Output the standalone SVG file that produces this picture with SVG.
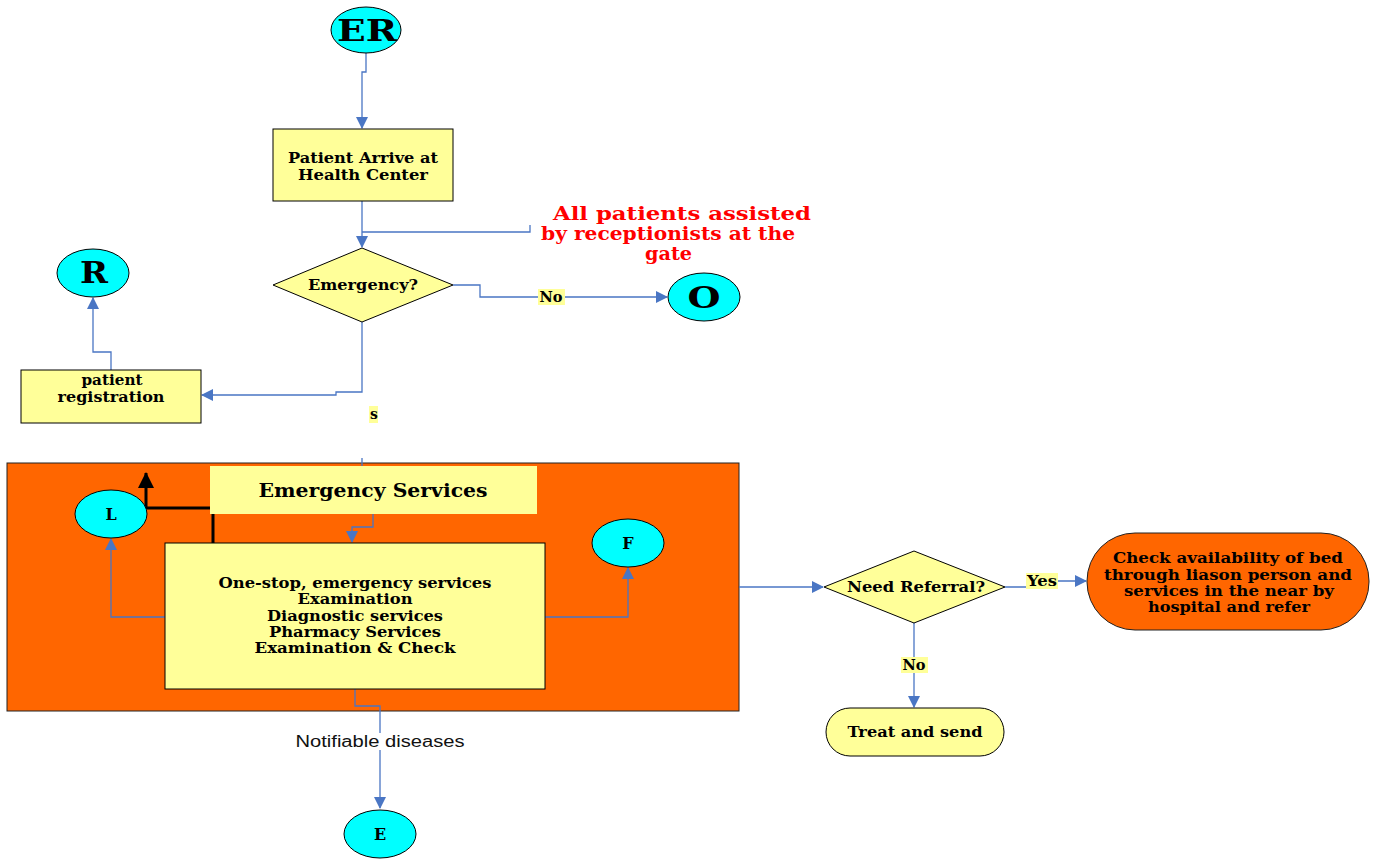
<svg xmlns="http://www.w3.org/2000/svg" width="1380" height="859" viewBox="0 0 1380 859">
<style>
.t{font-family:"DejaVu Serif","Liberation Serif",serif;font-weight:bold;fill:#000;text-anchor:middle;dominant-baseline:central}
.cy{fill:#00FFFF;stroke:#000;stroke-width:1}
.yl{fill:#FFFF99;stroke:#000;stroke-width:1}
.or{fill:#FF6600;stroke:#222;stroke-width:1}
.c{fill:none;stroke:#4A76C4;stroke-width:1.3}
.lb{fill:#FFFF99}
</style>
<defs>
<marker id="a" markerUnits="userSpaceOnUse" markerWidth="12" markerHeight="12" refX="11" refY="6" orient="auto">
<path d="M0,0 L12,6 L0,12 z" fill="#4A76C4"/>
</marker>
<marker id="b" markerUnits="userSpaceOnUse" markerWidth="16" markerHeight="16" refX="15" refY="8" orient="auto">
<path d="M0,0 L16,8 L0,16 z" fill="#000"/>
</marker>
</defs>

<g id="emergency-area">
<rect class="or" x="7" y="463" width="732" height="248"/>
</g>

<g id="connectors">
<path class="c" d="M366,53 V72 H362 V128" marker-end="url(#a)"/>
<path class="c" d="M362,201 V247" marker-end="url(#a)"/>
<path class="c" d="M530,225 V232 H362"/>
<path class="c" d="M453,285 H480 V297 H667" marker-end="url(#a)"/>
<path class="c" d="M362,322 V392 H336 V395 H202" marker-end="url(#a)"/>
<path class="c" d="M362,458 V466"/>
<path class="c" d="M111,370 V352 H93 V298" marker-end="url(#a)"/>
<path class="c" d="M373,514 V527 H352 V542" marker-end="url(#a)"/>
<path class="c" d="M165,617 H111 V539" marker-end="url(#a)"/>
<path class="c" d="M545,617 H628 V568" marker-end="url(#a)"/>
<path class="c" d="M355,689 V706 H380 V808" marker-end="url(#a)"/>
<path class="c" d="M739,587 H823" marker-end="url(#a)"/>
<path class="c" d="M1005,587 H1030 V581 H1086" marker-end="url(#a)"/>
<path class="c" d="M914,623 V707" marker-end="url(#a)"/>
<path d="M213,543 V508 H146 V473" fill="none" stroke="#000" stroke-width="3" marker-end="url(#b)"/>
<rect x="292" y="733" width="178" height="17" fill="#fff"/>
<text x="380" y="741" textLength="169" lengthAdjust="spacingAndGlyphs" style="font-family:'Liberation Sans',Arial,sans-serif;font-size:16px;fill:#111;text-anchor:middle;dominant-baseline:central">Notifiable diseases</text>
<rect class="lb" x="538" y="289" width="27" height="16"/>
<text class="t" x="551" y="297" textLength="23" lengthAdjust="spacingAndGlyphs" style="font-size:14px">No</text>
<rect class="lb" x="369" y="406" width="9" height="17"/>
<text class="t" x="374" y="414" style="font-size:14px">s</text>
<rect class="lb" x="1026" y="573" width="32" height="16"/>
<text class="t" x="1042" y="581" textLength="30" lengthAdjust="spacingAndGlyphs" style="font-size:14px">Yes</text>
<rect class="lb" x="901" y="657" width="27" height="16"/>
<text class="t" x="914" y="665" textLength="23" lengthAdjust="spacingAndGlyphs" style="font-size:14px">No</text>
</g>

<g id="ER">
<ellipse class="cy" cx="366" cy="30" rx="35" ry="23"/>
<text class="t" x="367" y="31" textLength="60" lengthAdjust="spacingAndGlyphs" style="font-size:29px">ER</text>
</g>

<g id="arrive">
<rect class="yl" x="273" y="129" width="180" height="72"/>
<text class="t" x="363" y="158" textLength="150" lengthAdjust="spacingAndGlyphs" style="font-size:15px">Patient Arrive at</text>
<text class="t" x="363" y="175" textLength="130" lengthAdjust="spacingAndGlyphs" style="font-size:15px">Health Center</text>
</g>

<g id="callout">
<text class="t" x="682" y="213" textLength="258" lengthAdjust="spacingAndGlyphs" style="font-size:19px;fill:#FF0000">All patients assisted</text>
<text class="t" x="668" y="233" textLength="254" lengthAdjust="spacingAndGlyphs" style="font-size:19px;fill:#FF0000">by receptionists at the</text>
<text class="t" x="668.5" y="253" textLength="47" lengthAdjust="spacingAndGlyphs" style="font-size:19px;fill:#FF0000">gate</text>
</g>

<g id="emergency-decision">
<polygon class="yl" points="273,285 362,248 453,285 362,322"/>
<text class="t" x="363" y="285" textLength="110" lengthAdjust="spacingAndGlyphs" style="font-size:15px">Emergency?</text>
</g>

<g id="O">
<ellipse class="cy" cx="704" cy="297" rx="36" ry="24"/>
<text class="t" x="704" y="298" textLength="33" lengthAdjust="spacingAndGlyphs" style="font-size:29px">O</text>
</g>

<g id="R">
<ellipse class="cy" cx="93" cy="273" rx="36" ry="24"/>
<text class="t" x="94" y="273" textLength="28" lengthAdjust="spacingAndGlyphs" style="font-size:29px">R</text>
</g>

<g id="registration">
<rect class="yl" x="21" y="370" width="180" height="53"/>
<text class="t" x="112" y="380" textLength="61" lengthAdjust="spacingAndGlyphs" style="font-size:15px">patient</text>
<text class="t" x="111" y="397" textLength="107" lengthAdjust="spacingAndGlyphs" style="font-size:15px">registration</text>
</g>

<g id="emergency-services-title">
<rect x="210" y="466" width="327" height="48" fill="#FFFF99"/>
<text class="t" x="373" y="490" textLength="229" lengthAdjust="spacingAndGlyphs" style="font-size:19px">Emergency Services</text>
</g>

<g id="one-stop">
<rect class="yl" x="165" y="543" width="380" height="146"/>
<text class="t" x="355" y="583" textLength="273" lengthAdjust="spacingAndGlyphs" style="font-size:15px">One-stop, emergency services</text>
<text class="t" x="355" y="599" textLength="115" lengthAdjust="spacingAndGlyphs" style="font-size:15px">Examination</text>
<text class="t" x="355" y="616" textLength="176" lengthAdjust="spacingAndGlyphs" style="font-size:15px">Diagnostic services</text>
<text class="t" x="355" y="632" textLength="172" lengthAdjust="spacingAndGlyphs" style="font-size:15px">Pharmacy Services</text>
<text class="t" x="355" y="648" textLength="201" lengthAdjust="spacingAndGlyphs" style="font-size:15px">Examination &amp; Check</text>
</g>

<g id="L">
<ellipse class="cy" cx="111" cy="514" rx="36" ry="24"/>
<text class="t" x="111" y="514" style="font-size:16px">L</text>
</g>

<g id="F">
<ellipse class="cy" cx="628" cy="543" rx="36" ry="24"/>
<text class="t" x="628" y="543" style="font-size:16px">F</text>
</g>

<g id="E">
<ellipse class="cy" cx="380" cy="834" rx="36" ry="24"/>
<text class="t" x="380" y="834" style="font-size:16px">E</text>
</g>

<g id="need-referral">
<polygon class="yl" points="824,587 914,551 1005,587 914,623"/>
<text class="t" x="916" y="587" textLength="138" lengthAdjust="spacingAndGlyphs" style="font-size:15px">Need Referral?</text>
</g>

<g id="check-availability">
<rect class="or" x="1087" y="533" width="282" height="97" rx="48" ry="48"/>
<text class="t" x="1228" y="558" textLength="230" lengthAdjust="spacingAndGlyphs" style="font-size:15px">Check availability of bed</text>
<text class="t" x="1228" y="575" textLength="248" lengthAdjust="spacingAndGlyphs" style="font-size:15px">through liason person  and</text>
<text class="t" x="1229" y="591" textLength="210" lengthAdjust="spacingAndGlyphs" style="font-size:15px">services in the near by</text>
<text class="t" x="1229" y="607" textLength="162" lengthAdjust="spacingAndGlyphs" style="font-size:15px">hospital and refer</text>
</g>

<g id="treat">
<rect class="yl" x="826" y="708" width="178" height="48" rx="24" ry="24"/>
<text class="t" x="915" y="732" textLength="135" lengthAdjust="spacingAndGlyphs" style="font-size:15px">Treat and send</text>
</g>
</svg>
